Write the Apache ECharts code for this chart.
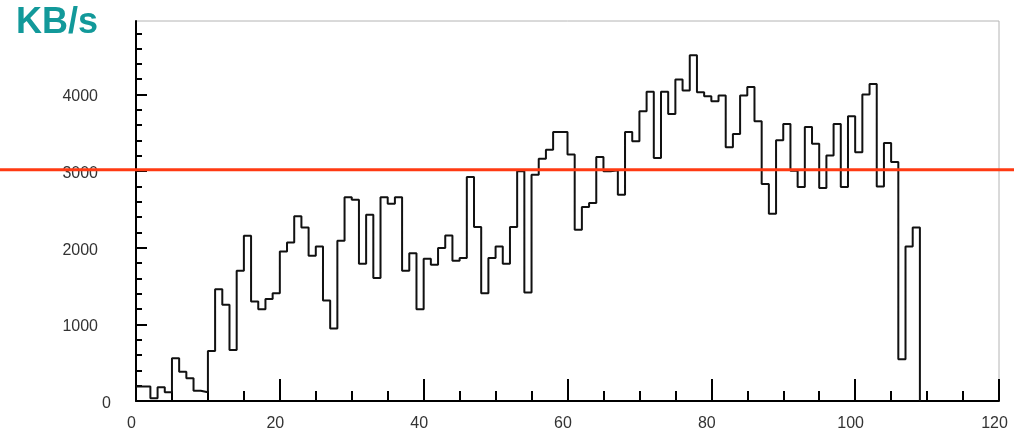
<!DOCTYPE html>
<html>
<head>
<meta charset="utf-8">
<script src="https://cdn.jsdelivr.net/npm/echarts@6/dist/echarts.min.js"></script>
<style>
  html, body { margin: 0; padding: 0; background: #fff; }
  #chart { width: 1014px; height: 433px; }
</style>
</head>
<body>
<div id="chart"></div>
<script>
// Histogram bin contents (KB/s), one bin per unit from 0 to 109
const binValues = [
  190, 190, 35, 179, 113, 558, 383, 296, 135, 113,
  654, 1460, 1255, 667, 1699, 2157, 1298, 1198, 1333, 1407,
  1952, 2070, 2410, 2266, 1895, 2017, 1311, 945, 2092, 2658,
  2627, 1791, 2431, 1604, 2658, 2575, 2658, 1699, 1930, 1198,
  1856, 1778, 1996, 2161, 1830, 1865, 2924, 2270, 1407, 1865,
  2017, 1791, 2270, 2998, 1416, 2954, 3163, 3281, 3512, 3512,
  3216, 2235, 2532, 2584, 3185, 2998, 3011, 2693, 3512, 3390,
  3782, 4035, 3172, 4035, 3747, 4196, 4052, 4514, 4030, 3978,
  3913, 3987, 3311, 3486, 3987, 4100, 3651, 2832, 2444, 3403,
  3617, 3007, 2793, 3577, 3359, 2780, 3203, 3617, 2793, 3716,
  3246, 4000, 4139, 2801, 3368, 3120, 545, 2017, 2265
];
const binStart = 0;
const binWidth = 1;
const thresholdValue = 3020;
const xTicks = [0, 20, 40, 60, 80, 100, 120];
const yTicks = [0, 1000, 2000, 3000, 4000];
const yMinorStep = 200;
const yMax = 4960;
const unitLabel = 'KB/s';

// build step data from the arrays
const stepData = binValues.map((v, i) => [binStart + i * binWidth, v]);
stepData.push([binStart + binValues.length * binWidth, 0]);
const yMinorTicks = [];
for (let v = yMinorStep; v < yMax; v += yMinorStep) {
  if (yTicks.indexOf(v) < 0) yMinorTicks.push(v);
}

const chart = echarts.init(document.getElementById('chart'), null, { renderer: 'canvas' });
const FONT = 'Liberation Sans';
chart.setOption({
  animation: false,
  backgroundColor: '#ffffff',
  title: {
    text: unitLabel,
    left: 16,
    top: 5,
    padding: 0,
    textStyle: { fontFamily: FONT, fontSize: 36, fontWeight: 'bold', color: '#12999a' }
  },
  grid: [
    { left: 136, right: 15, top: 21, bottom: 32, show: true, borderColor: '#b4b4b4', borderWidth: 1, backgroundColor: 'transparent' },
    { left: 0, right: 0, top: 21, bottom: 32 }
  ],
  xAxis: [
    {
      gridIndex: 0, type: 'value', min: xTicks[0], max: xTicks[xTicks.length - 1], interval: 20,
      axisLine: { show: true, onZero: false, lineStyle: { color: '#000', width: 2 } },
      axisTick: { show: true, inside: true, length: 22, lineStyle: { color: '#000', width: 2 } },
      minorTick: { show: true, splitNumber: 4, length: 10, lineStyle: { color: '#000', width: 2 } },
      splitLine: { show: false },
      axisLabel: { fontFamily: FONT, fontSize: 16, color: '#333', margin: 15, padding: [0, 9, 0, 0] }
    },
    { gridIndex: 1, type: 'value', min: 0, max: 1, show: false }
  ],
  yAxis: [
    {
      gridIndex: 0, type: 'value', min: 0, max: yMax, interval: 1000,
      axisLine: { show: true, onZero: false, lineStyle: { color: '#000', width: 2 } },
      axisTick: { show: true, inside: true, length: 11, customValues: yTicks, lineStyle: { color: '#000', width: 2 } },
      splitLine: { show: false },
      axisLabel: {
        customValues: yTicks,
        fontFamily: FONT, fontSize: 16, color: '#333', margin: 25,
        padding: [5, 0, 0, 0],
        formatter: function (v) { return v === 0 ? '0' : v + '{s| }'; },
        rich: { s: { width: 13, fontSize: 16 } }
      }
    },
    {
      gridIndex: 0, type: 'value', min: 0, max: yMax, position: 'left',
      axisLine: { show: false },
      axisTick: { show: true, inside: true, length: 6, customValues: yMinorTicks, lineStyle: { color: '#000', width: 2 } },
      axisLabel: { show: false },
      splitLine: { show: false }
    },
    { gridIndex: 1, type: 'value', min: 0, max: yMax, show: false }
  ],
  series: [
    {
      type: 'line', xAxisIndex: 0, yAxisIndex: 0,
      data: stepData, step: 'end', showSymbol: false, symbol: 'none',
      lineStyle: { color: '#111', width: 2 }, z: 3
    },
    {
      type: 'line', xAxisIndex: 1, yAxisIndex: 2,
      data: [[0, thresholdValue], [1, thresholdValue]], showSymbol: false, symbol: 'none',
      lineStyle: { color: '#ff3a12', width: 3 }, z: 5
    }
  ]
});
</script>
</body>
</html>
